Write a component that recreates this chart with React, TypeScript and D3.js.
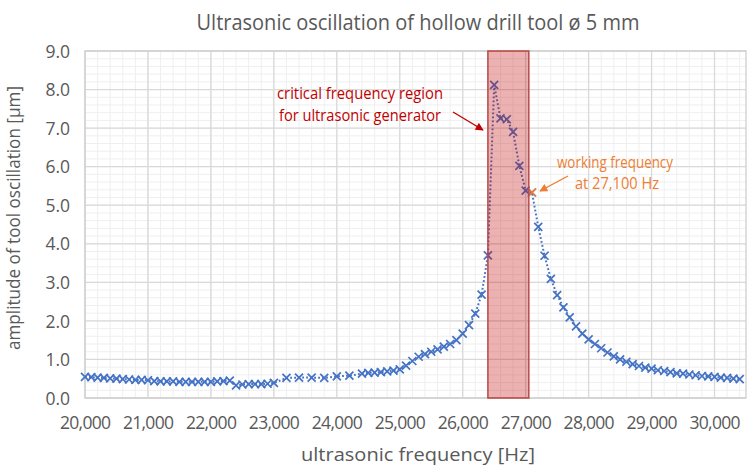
import React, { useEffect, useRef } from 'react';
import * as d3 from 'd3';

// measured frequency [Hz]
const frequencies = [
  20000, 20100, 20200, 20300, 20400, 20500, 20600, 20700, 20800, 20900,
  21000, 21100, 21200, 21300, 21400, 21500, 21600, 21700, 21800, 21900,
  22000, 22100, 22200, 22300, 22400, 22500, 22600, 22700, 22800, 22900,
  23000, 23200, 23400, 23600, 23800, 24000, 24200,
  24400, 24500, 24600, 24700, 24800, 24900, 25000, 25100, 25200, 25300,
  25400, 25500, 25600, 25700, 25800, 25900, 26000, 26100, 26200, 26300,
  26400, 26500, 26600, 26700, 26800, 26900, 27000, 27100, 27200, 27300,
  27400, 27500, 27600, 27700, 27800, 27900, 28000, 28100, 28200, 28300,
  28400, 28500, 28600, 28700, 28800, 28900, 29000, 29100, 29200, 29300,
  29400, 29500, 29600, 29700, 29800, 29900, 30000, 30100, 30200, 30300,
  30400,
];

// amplitude of tool oscillation [µm]
const amplitudes = [
  0.55, 0.54, 0.53, 0.52, 0.51, 0.50, 0.49, 0.48, 0.47, 0.47,
  0.46, 0.44, 0.43, 0.43, 0.43, 0.42, 0.42, 0.42, 0.42, 0.42,
  0.42, 0.43, 0.44, 0.45, 0.33, 0.35, 0.36, 0.36, 0.36, 0.37,
  0.39, 0.52, 0.53, 0.53, 0.52, 0.56, 0.58,
  0.63, 0.65, 0.66, 0.67, 0.69, 0.71, 0.74, 0.84, 0.96, 1.07,
  1.14, 1.20, 1.26, 1.33, 1.40, 1.50, 1.67, 1.89, 2.19, 2.68,
  3.70, 8.12, 7.25, 7.23, 6.90, 6.02, 5.38, 5.33, 4.44, 3.69,
  3.09, 2.67, 2.35, 2.09, 1.86, 1.67, 1.52, 1.40, 1.29, 1.18,
  1.08, 1.00, 0.94, 0.88, 0.83, 0.79, 0.76, 0.72, 0.70, 0.67,
  0.64, 0.63, 0.61, 0.59, 0.57, 0.56, 0.55, 0.53, 0.52, 0.50,
  0.49,
];

const xTicks = [20000, 21000, 22000, 23000, 24000, 25000, 26000, 27000, 28000, 29000, 30000];
const yTicks = [0, 1, 2, 3, 4, 5, 6, 7, 8, 9];

const criticalRegion = [26400, 27050];
const workingPoint = { f: 27100, a: 5.33 };

const FONT = '"Open Sans", "Noto Sans", sans-serif';

const App: React.FC = () => {
  const svgRef = useRef<SVGSVGElement>(null);

  useEffect(() => {
    if (!svgRef.current) return;
    const width = 754;
    const height = 466;
    const margin = { top: 51, right: 8, bottom: 68, left: 85 };
    const w = width - margin.left - margin.right;
    const h = height - margin.top - margin.bottom;

    d3.select(svgRef.current).selectAll('*').remove();
    const root = d3.select(svgRef.current)
      .attr('width', width)
      .attr('height', height);

    root.append('rect').attr('width', width).attr('height', height).attr('fill', '#fff');

    const defs = root.append('defs');
    const arrow = (id: string, color: string) => {
      defs.append('marker')
        .attr('id', id)
        .attr('viewBox', '0 0 10 10')
        .attr('refX', 9)
        .attr('refY', 5)
        .attr('markerWidth', 9)
        .attr('markerHeight', 8)
        .attr('markerUnits', 'userSpaceOnUse')
        .attr('orient', 'auto')
        .append('path')
        .attr('d', 'M0,0 L10,5 L0,10 Z')
        .attr('fill', color);
    };
    arrow('arrow-red', '#C00000');
    arrow('arrow-orange', '#ED7D31');

    const svg = root.append('g').attr('transform', `translate(${margin.left},${margin.top})`);

    const x = d3.scaleLinear().domain([20000, 30500]).range([0, w]);
    const y = d3.scaleLinear().domain([0, 9]).range([h, 0]);

    // minor gridlines
    const xMinor = d3.range(20000, 30501, 200);
    const yMinor = d3.range(0, 9.01, 0.2);
    svg.append('g').selectAll('line').data(xMinor).enter().append('line')
      .attr('x1', d => x(d)).attr('x2', d => x(d)).attr('y1', 0).attr('y2', h)
      .attr('stroke', '#EFEFEF').attr('stroke-width', 1);
    svg.append('g').selectAll('line').data(yMinor).enter().append('line')
      .attr('y1', d => y(d)).attr('y2', d => y(d)).attr('x1', 0).attr('x2', w)
      .attr('stroke', '#EFEFEF').attr('stroke-width', 1);

    // major gridlines
    svg.append('g').selectAll('line').data(xTicks).enter().append('line')
      .attr('x1', d => x(d)).attr('x2', d => x(d)).attr('y1', 0).attr('y2', h)
      .attr('stroke', '#D9D9D9').attr('stroke-width', 1.3);
    svg.append('g').selectAll('line').data(yTicks).enter().append('line')
      .attr('y1', d => y(d)).attr('y2', d => y(d)).attr('x1', 0).attr('x2', w)
      .attr('stroke', '#D9D9D9').attr('stroke-width', 1.3);

    svg.append('rect')
      .attr('width', w).attr('height', h)
      .attr('fill', 'none').attr('stroke', '#D0D0D0').attr('stroke-width', 1.3);

    // axes labels
    const xAxis = svg.append('g')
      .attr('transform', `translate(0,${h})`)
      .call(d3.axisBottom(x).tickValues(xTicks).tickSize(0).tickPadding(19).tickFormat(d3.format(',')));
    xAxis.select('.domain').remove();
    xAxis.selectAll('text')
      .attr('fill', '#595959').attr('textLength', 51)
      .style('font-family', FONT).style('font-size', '17.5px');

    const yAxis = svg.append('g')
      .call(d3.axisLeft(y).tickValues(yTicks).tickSize(0).tickPadding(15).tickFormat(d3.format('.1f')));
    yAxis.select('.domain').remove();
    yAxis.selectAll('text')
      .attr('fill', '#595959').attr('dy', '0.35em')
      .style('font-family', FONT).style('font-size', '17.5px');

    const data = frequencies.map((f, i) => ({ f, a: amplitudes[i] }));

    // dotted connecting line
    const line = d3.line<{ f: number; a: number }>().x(d => x(d.f)).y(d => y(d.a));
    svg.append('path')
      .datum(data)
      .attr('fill', 'none')
      .attr('stroke', '#4472C4')
      .attr('stroke-width', 2)
      .attr('stroke-dasharray', '1.8 2.2')
      .attr('d', line);

    // cross markers
    const cross = (g: d3.Selection<SVGGElement, unknown, null, undefined>, pts: { f: number; a: number }[], color: string) => {
      const s = 4;
      g.selectAll('path').data(pts).enter().append('path')
        .attr('d', d => {
          const cx = x(d.f), cy = y(d.a);
          return `M${cx - s},${cy - s}L${cx + s},${cy + s}M${cx - s},${cy + s}L${cx + s},${cy - s}`;
        })
        .attr('stroke', color)
        .attr('stroke-width', 1.7)
        .attr('fill', 'none');
    };
    cross(svg.append('g'), data, '#4472C4');
    cross(svg.append('g'), [workingPoint], '#ED7D31');

    // critical region overlay
    svg.append('rect')
      .attr('x', x(criticalRegion[0]))
      .attr('y', 0)
      .attr('width', x(criticalRegion[1]) - x(criticalRegion[0]))
      .attr('height', h)
      .attr('fill', '#C00000')
      .attr('fill-opacity', 0.3)
      .attr('stroke', '#B94A48')
      .attr('stroke-width', 1.5);

    // annotations
    const red = svg.append('g').attr('fill', '#C00000').style('font-family', FONT).style('font-size', '15.5px')
      .attr('text-anchor', 'middle');
    red.append('text').attr('x', 360 - margin.left).attr('y', 99 - margin.top)
      .attr('textLength', 166).attr('lengthAdjust', 'spacingAndGlyphs').text('critical frequency region');
    red.append('text').attr('x', 360 - margin.left).attr('y', 121 - margin.top)
      .attr('textLength', 162).attr('lengthAdjust', 'spacingAndGlyphs').text('for ultrasonic generator');
    svg.append('line')
      .attr('x1', 453 - margin.left).attr('y1', 112 - margin.top)
      .attr('x2', 483 - margin.left).attr('y2', 130 - margin.top)
      .attr('stroke', '#C00000').attr('stroke-width', 1.4)
      .attr('marker-end', 'url(#arrow-red)');

    const orange = svg.append('g').attr('fill', '#ED7D31').style('font-family', FONT).style('font-size', '15.5px')
      .attr('text-anchor', 'middle');
    orange.append('text').attr('x', 615 - margin.left).attr('y', 168 - margin.top)
      .attr('textLength', 116).attr('lengthAdjust', 'spacingAndGlyphs').text('working frequency');
    orange.append('text').attr('x', 617 - margin.left).attr('y', 189 - margin.top)
      .attr('textLength', 84).attr('lengthAdjust', 'spacingAndGlyphs').text('at 27,100 Hz');
    svg.append('line')
      .attr('x1', 568 - margin.left).attr('y1', 176 - margin.top)
      .attr('x2', 540 - margin.left).attr('y2', 191 - margin.top)
      .attr('stroke', '#ED7D31').attr('stroke-width', 1.4)
      .attr('marker-end', 'url(#arrow-orange)');

    // titles
    root.append('text')
      .attr('x', 418).attr('y', 30)
      .attr('text-anchor', 'middle')
      .attr('fill', '#595959')
      .style('font-family', FONT).style('font-size', '22.5px')
      .attr('textLength', 443).attr('lengthAdjust', 'spacingAndGlyphs')
      .text('Ultrasonic oscillation of hollow drill tool ø 5 mm');

    root.append('text')
      .attr('x', 418).attr('y', 461)
      .attr('text-anchor', 'middle')
      .attr('fill', '#595959')
      .style('font-family', FONT).style('font-size', '18px')
      .attr('textLength', 234).attr('lengthAdjust', 'spacingAndGlyphs')
      .text('ultrasonic frequency [Hz]');

    root.append('text')
      .attr('transform', `translate(20,${218}) rotate(-90)`)
      .attr('text-anchor', 'middle')
      .attr('fill', '#595959')
      .style('font-family', FONT).style('font-size', '18px')
      .attr('textLength', 264).attr('lengthAdjust', 'spacingAndGlyphs')
      .text('amplitude of tool oscillation [µm]');
  }, []);

  return (
    <div style={{ position: 'absolute', left: 0, top: 0 }}>
      <svg ref={svgRef} style={{ display: 'block' }} />
    </div>
  );
};

export default App;
